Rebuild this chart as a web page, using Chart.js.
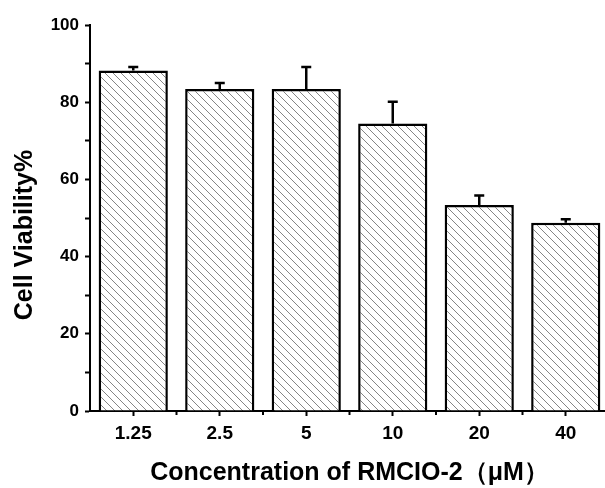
<!DOCTYPE html>
<html>
<head>
<meta charset="utf-8">
<script src="https://cdn.jsdelivr.net/npm/chart.js@4"></script>
<style>
  html, body { margin: 0; padding: 0; background: #fff; overflow: hidden; }
  #wrap { width: 612px; height: 488px; position: relative; }
</style>
</head>
<body>
<div id="wrap"><canvas id="myChart"></canvas></div>
<script>
// datos del grafico
const categories = ['1.25', '2.5', '5', '10', '20', '40'];
const viability = [88.2, 83.4, 83.4, 74.5, 53.4, 48.8];
const errors = [0.9, 1.6, 5.7, 5.6, 2.4, 0.9];
const yTicks = [0, 20, 40, 60, 80, 100];

const canvas = document.getElementById('myChart');
const ctx = canvas.getContext('2d');
const font = 'Liberation Sans, Arial, sans-serif';

// patron rayado diagonal para las barras
function hatch() {
  const n = 8;
  const c = document.createElement('canvas');
  c.width = n; c.height = n;
  const g = c.getContext('2d');
  g.fillStyle = '#fff';
  g.fillRect(0, 0, n, n);
  g.strokeStyle = '#858585';
  g.lineWidth = 1;
  g.beginPath();
  g.moveTo(-1, -1); g.lineTo(n + 1, n + 1);
  g.moveTo(-1, n - 1); g.lineTo(1, n + 1);
  g.moveTo(n - 1, -1); g.lineTo(n + 1, 1);
  g.stroke();
  return ctx.createPattern(c, 'repeat');
}

// barras de error (solo hacia arriba), marcas menores del eje x y titulo del eje y
const extras = {
  id: 'extras',
  afterDatasetsDraw(chart) {
    const c = chart.ctx;
    const y = chart.scales.y;
    const x = chart.scales.x;
    const meta = chart.getDatasetMeta(0);
    c.save();
    c.strokeStyle = '#000';
    c.lineWidth = 2.5;
    meta.data.forEach((bar, i) => {
      const top = y.getPixelForValue(viability[i] + errors[i]);
      c.beginPath();
      c.moveTo(bar.x, bar.y);
      c.lineTo(bar.x, top);
      c.moveTo(bar.x - 5, top);
      c.lineTo(bar.x + 5, top);
      c.stroke();
    });
    c.lineWidth = 2;
    const bottom = chart.chartArea.bottom;
    for (let i = 0; i < categories.length - 1; i++) {
      const bx = (x.getPixelForValue(i) + x.getPixelForValue(i + 1)) / 2;
      c.beginPath();
      c.moveTo(bx, bottom);
      c.lineTo(bx, bottom + 4);
      c.stroke();
    }
    // titulo del eje y, un poco mas abajo que el centro del area
    c.translate(25, 235);
    c.rotate(-Math.PI / 2);
    c.fillStyle = '#000';
    c.font = 'bold 25px ' + font;
    c.textAlign = 'center';
    c.textBaseline = 'middle';
    c.fillText('Cell Viability%', 0, 0);
    c.restore();
  }
};

const myChart = new Chart(ctx, {
  type: 'bar',
  data: {
    labels: categories,
    datasets: [{
      data: viability,
      backgroundColor: hatch(),
      borderColor: '#000',
      borderWidth: 2.5,
      barPercentage: 0.8,
      categoryPercentage: 1.0
    }]
  },
  options: {
    responsive: true,
    maintainAspectRatio: false,
    animation: false,
    layout: { padding: { top: 25, right: 3, left: 0, bottom: 0 } },
    plugins: {
      legend: { display: false },
      tooltip: { enabled: false }
    },
    scales: {
      x: {
        grid: {
          drawOnChartArea: false,
          drawTicks: true,
          tickLength: 5,
          tickWidth: 2,
          tickColor: '#000',
          offset: false
        },
        border: { display: true, color: '#000', width: 2 },
        ticks: {
          color: '#000',
          padding: 6,
          font: { family: font, size: 19, weight: 'bold' }
        },
        title: {
          display: true,
          text: 'Concentration of RMCIO-2（μM）',
          color: '#000',
          padding: { top: 0, bottom: 0 },
          font: { family: font, size: 25, weight: 'bold' }
        },
        afterFit(s) { s.height = 77; }
      },
      y: {
        min: 0,
        max: 100,
        afterBuildTicks(s) {
          s.ticks = [];
          for (let v = 0; v <= 100; v += 10) s.ticks.push({ value: v });
        },
        grid: {
          drawOnChartArea: false,
          drawTicks: true,
          tickLength: 5,
          tickWidth: 2,
          tickColor: '#000'
        },
        border: { display: true, color: '#000', width: 2 },
        ticks: {
          color: '#000',
          padding: 6,
          autoSkip: false,
          font: { family: font, size: 17, weight: 'bold' },
          callback: v => yTicks.includes(v) ? v : ''
        },
        title: { display: false },
        afterFit(s) { s.width = 90; }
      }
    }
  },
  plugins: [extras]
});
</script>
</body>
</html>
